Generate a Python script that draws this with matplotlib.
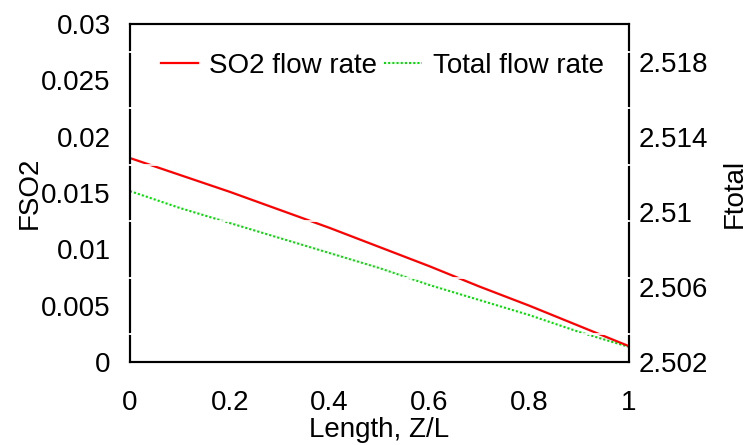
import matplotlib.pyplot as plt
from matplotlib.ticker import MultipleLocator

plt.rcParams['font.family'] = ['Liberation Sans', 'DejaVu Sans']

# data
z = [0.0, 0.1, 0.2, 0.3, 0.4, 0.5, 0.6, 0.7, 0.8, 0.9, 1.0]
fso2 = [0.0181, 0.0166, 0.0151, 0.0135, 0.0119, 0.0102, 0.0085, 0.0067, 0.0050, 0.0032, 0.0014]
ftotal = [2.5111, 2.5102, 2.5094, 2.5086, 2.5078, 2.5070, 2.5061, 2.5053, 2.5045, 2.5036, 2.5028]

fs = 20
fig = plt.figure(figsize=(7.48, 4.45), dpi=100)
ax = fig.add_axes([0.1738, 0.1865, 0.6671, 0.7596])
ax2 = ax.twinx()
# left axes on top so its white grid cuts both curves
ax.set_zorder(ax2.get_zorder() + 1)
ax.patch.set_visible(False)

l1, = ax.plot(z, fso2, color='red', lw=1.6, label='SO2 flow rate')
l2, = ax2.plot(z, ftotal, color='#00e000', lw=1.5, ls=(0, (1, 1)), label='Total flow rate')

ax.set_xlim(0, 1)
ax.set_ylim(0, 0.03)
ax2.set_ylim(2.502, 2.520)
ax.yaxis.set_minor_locator(MultipleLocator(0.0025))
ax2.set_yticks([2.502, 2.506, 2.51, 2.514, 2.518])
ax2.set_yticklabels(['2.502', '2.506', '2.51', '2.514', '2.518'])
ax.set_xticks([0, 0.2, 0.4, 0.6, 0.8, 1.0])
ax.set_xticklabels(['0', '0.2', '0.4', '0.6', '0.8', '1'])
ax.set_yticks([0, 0.005, 0.01, 0.015, 0.02, 0.025, 0.03])
ax.set_yticklabels(['0', '0.005', '0.01', '0.015', '0.02', '0.025', '0.03'])

ax.tick_params(which='major', length=0, labelsize=fs)
ax.tick_params(axis='y', which='major', pad=14)
ax.tick_params(axis='x', which='major', pad=20)
ax.tick_params(axis='y', which='minor', length=3, width=1.2, color='white',
               direction='inout', left=True, right=True)
ax2.tick_params(which='major', length=0, labelsize=fs, pad=7)
ax.yaxis.grid(True, which='minor', color='white', lw=1.2)
ax.yaxis.set_zorder(3)

for a in (ax, ax2):
    for s in a.spines.values():
        s.set_linewidth(1.5)

ax.set_xlabel('Length, Z/L', fontsize=fs, labelpad=1)
ax.set_ylabel('FSO2', fontsize=fs, labelpad=-1)
ax2.set_ylabel('Ftotal', fontsize=fs, labelpad=10)

ax.legend(handles=[l1, l2], loc='upper right', bbox_to_anchor=(0.95, 0.915),
          ncol=2, frameon=False, fontsize=fs, handlelength=1.35,
          handletextpad=0.4, columnspacing=0.25, borderpad=0, borderaxespad=0)

fig.savefig('out.png', dpi=100)
